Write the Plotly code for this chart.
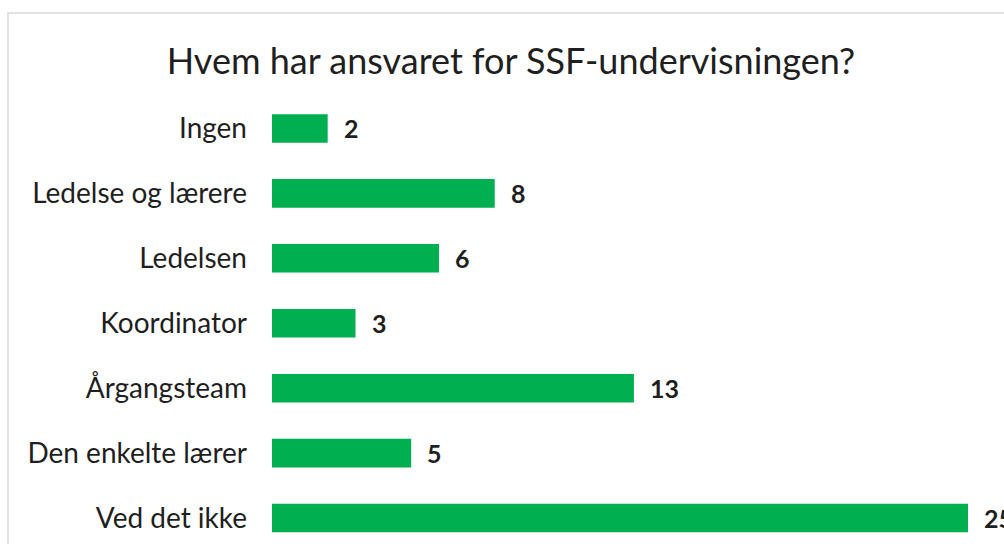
import plotly.graph_objects as go

categories = ["Ingen", "Ledelse og lærere", "Ledelsen", "Koordinator",
              "Årgangsteam", "Den enkelte lærer", "Ved det ikke"]
values = [2, 8, 6, 3, 13, 5, 25]
title_text = "Hvem har ansvaret for SSF-undervisningen?"

W, H = 1004, 544
ML, MR, MT, MB = 272, 36, 96, 0
pw, ph = W - ML - MR, H - MT - MB

FONT = "Lato, Calibri, Carlito, sans-serif"
TXT = "#1f1f1f"
GREEN = "#00B050"

fig = go.Figure()
fig.add_trace(go.Bar(
    x=values, y=categories, orientation="h",
    marker=dict(color=GREEN, line=dict(width=0)),
    width=0.44, hoverinfo="skip",
))

for c, v in zip(categories, values):
    fig.add_annotation(x=v, y=c, xref="x", yref="y", text="<b>%d</b>" % v,
                       showarrow=False, xanchor="left", yanchor="middle",
                       xshift=14, font=dict(family=FONT, size=25, color=TXT))

# chart border
fig.add_shape(type="rect", xref="paper", yref="paper",
              x0=(8 - ML) / pw, x1=(1012 - ML) / pw,
              y0=(H - 552) / ph, y1=(H - 13) / ph,
              line=dict(color="#D9D9D9", width=1.5), layer="below")

fig.update_layout(
    width=W, height=H,
    margin=dict(l=ML, r=MR, t=MT, b=MB, pad=0),
    paper_bgcolor="white", plot_bgcolor="white",
    showlegend=False,
    title=dict(text=title_text, x=511 / W, xref="container", xanchor="center",
               y=1 - 61 / H, yref="container", yanchor="middle",
               font=dict(family=FONT, size=36, color=TXT)),
    xaxis=dict(range=[0, 25], showgrid=False, zeroline=False, showline=False,
               showticklabels=False, ticks=""),
    yaxis=dict(type="category", categoryorder="array", categoryarray=categories,
               range=[6.4, -0.5], showgrid=False, zeroline=False, showline=False,
               ticks="", ticklabelstandoff=24,
               tickfont=dict(family=FONT, size=28, color=TXT)),
)

fig.write_html("out.html")
